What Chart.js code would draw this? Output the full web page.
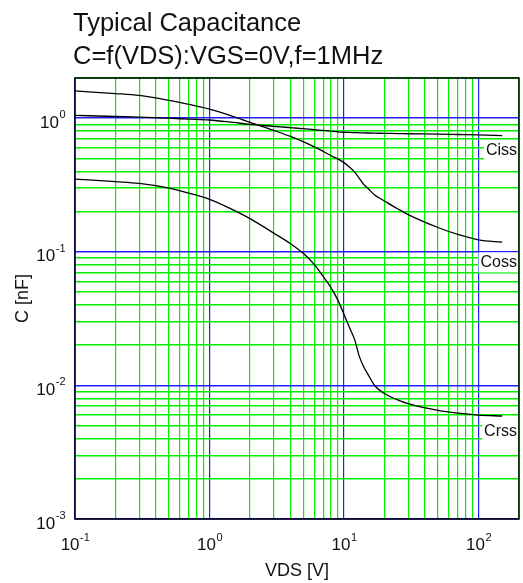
<!DOCTYPE html>
<html>
<head>
<meta charset="utf-8">
<script src="https://cdn.jsdelivr.net/npm/chart.js@4.4.1/dist/chart.umd.min.js"></script>
<style>
  html, body { margin: 0; padding: 0; background: #fff; }
  #wrap { width: 523px; height: 583px; }
</style>
</head>
<body>
<div id="wrap"><canvas id="capChart" width="523" height="583"></canvas></div>
<script>
// VDS [V] sample points shared by the three curves
const vds  = [0.1, 0.2, 0.3, 0.5, 0.7, 1, 1.5, 2, 3, 4, 5, 6, 7, 8, 9, 10, 11, 12, 13, 14, 15, 17, 20, 25, 30, 50, 70, 100, 150];
// capacitances [nF]
const ciss = [1.05, 1.03, 1.02, 1.0, 0.985, 0.97, 0.93, 0.9, 0.87, 0.85, 0.835, 0.82, 0.81, 0.8, 0.79, 0.785, 0.783, 0.78, 0.778, 0.776, 0.775, 0.773, 0.77, 0.768, 0.765, 0.76, 0.755, 0.75, 0.74];
const coss = [1.6, 1.53, 1.48, 1.36, 1.27, 1.17, 1.03, 0.93, 0.81, 0.73, 0.665, 0.61, 0.565, 0.525, 0.495, 0.465, 0.43, 0.395, 0.355, 0.32, 0.3, 0.265, 0.24, 0.21, 0.19, 0.152, 0.135, 0.123, 0.118];
const crss = [0.35, 0.335, 0.325, 0.3, 0.275, 0.247, 0.206, 0.177, 0.138, 0.115, 0.097, 0.0805, 0.0655, 0.054, 0.0435, 0.034, 0.027, 0.022, 0.0165, 0.0138, 0.0122, 0.0099, 0.0087, 0.0078, 0.0073, 0.0065, 0.0062, 0.006, 0.0059];

// curve names and the level where each name sits at the right edge
const curveNames  = ['Ciss', 'Coss', 'Crss'];
const labelLevels = [0.573, 0.0833, 0.00454];

// axes
const xMin = 0.1, xMax = 200;
const yMin = 0.001, yMax = 2;
const xTickValues = [0.1, 1, 10, 100];
const xTickExps   = ['-1', '0', '1', '2'];
const yTickValues = [1, 0.1, 0.01, 0.001];
const yTickExps   = ['0', '-1', '-2', '-3'];

const titleLines = ['Typical Capacitance', 'C=f(VDS):VGS=0V,f=1MHz'];
const xTitle = 'VDS [V]';
const yTitle = 'C [nF]';

const FONT = '"Liberation Sans", Arial, sans-serif';
const GREEN = 'rgb(0,240,0)';
const BLUE = 'rgb(30,30,255)';

// 1..9 x 10^n lines between min and max
function logGrid(min, max) {
    const out = [];
    for (let e = Math.floor(Math.log10(min)); e <= Math.ceil(Math.log10(max)); e++) {
        for (let m = 1; m < 10; m++) {
            const v = Number((m * Math.pow(10, e)).toPrecision(6));
            if (v >= min - 1e-12 && v <= max + 1e-12) out.push(v);
        }
    }
    return out;
}
const isDecade = v => Math.abs(Math.log10(v) - Math.round(Math.log10(v))) < 1e-6;

function drawPower(ctx, exp, x, baseY, align) {
    ctx.font = '17px ' + FONT;
    const wb = ctx.measureText('10').width;
    ctx.font = '11px ' + FONT;
    const we = ctx.measureText(exp).width;
    const left = align === 'center' ? x - (wb + we) / 2 : x - wb - we;
    ctx.textAlign = 'left';
    ctx.textBaseline = 'alphabetic';
    ctx.font = '17px ' + FONT;
    ctx.fillText('10', left, baseY);
    ctx.font = '11px ' + FONT;
    ctx.fillText(exp, left + wb + 0.5, baseY - 9.5);
}

const decorPlugin = {
    id: 'decor',
    afterDatasetsDraw(chart) {
        const { ctx, chartArea: a, scales: { x, y } } = chart;
        ctx.save();

        // curve names on white boxes
        ctx.font = '16px ' + FONT;
        curveNames.forEach((name, i) => {
            const py = y.getPixelForValue(labelLevels[i]);
            const w = ctx.measureText(name).width;
            const tx = a.right - 2 - w;
            ctx.fillStyle = '#fff';
            ctx.fillRect(tx - 2, py - 10, a.right - tx + 1, 20);
            ctx.fillStyle = '#111';
            ctx.textAlign = 'left';
            ctx.textBaseline = 'middle';
            ctx.fillText(name, tx, py);
        });

        // frame
        ctx.strokeStyle = '#000';
        ctx.lineWidth = 1.5;
        ctx.strokeRect(a.left, a.top, a.right - a.left, a.bottom - a.top);

        ctx.fillStyle = '#111';
        // tick labels
        xTickValues.forEach((v, i) => drawPower(ctx, xTickExps[i], x.getPixelForValue(v), a.bottom + 31, 'center'));
        yTickValues.forEach((v, i) => drawPower(ctx, yTickExps[i], a.left - 10, y.getPixelForValue(v) + 9.5, 'right'));

        // titles
        ctx.font = '25.5px ' + FONT;
        ctx.textAlign = 'left';
        ctx.textBaseline = 'alphabetic';
        ctx.fillText(titleLines[0], 73, 31);
        ctx.fillText(titleLines[1], 73, 64);

        ctx.font = '18px ' + FONT;
        ctx.textAlign = 'center';
        ctx.fillText(xTitle, (a.left + a.right) / 2, a.bottom + 57);

        ctx.translate(28, (a.top + a.bottom) / 2);
        ctx.rotate(-Math.PI / 2);
        ctx.fillText(yTitle, 0, 0);
        ctx.restore();
    }
};

function curve(name, values) {
    return {
        label: name,
        data: vds.map((v, i) => ({ x: v, y: values[i] })),
        borderColor: '#000',
        borderWidth: 1.3,
        pointRadius: 0,
        cubicInterpolationMode: 'monotone',
        fill: false
    };
}

function gridOpts(width) {
    return {
        drawTicks: false,
        lineWidth: width,
        color: c => (c.tick && isDecade(c.tick.value)) ? BLUE : GREEN
    };
}

new Chart(document.getElementById('capChart').getContext('2d'), {
    type: 'line',
    data: {
        datasets: [curve('Ciss', ciss), curve('Coss', coss), curve('Crss', crss)]
    },
    options: {
        responsive: false,
        animation: false,
        layout: { padding: { left: 75, top: 78, right: 4, bottom: 64 } },
        plugins: { legend: { display: false }, tooltip: { enabled: false } },
        scales: {
            x: {
                type: 'logarithmic', min: xMin, max: xMax,
                ticks: { display: false },
                grid: gridOpts(1.2),
                border: { display: false },
                afterBuildTicks: s => { s.ticks = logGrid(xMin, xMax).map(v => ({ value: v })); },
                afterFit: s => { s.height = 0; }
            },
            y: {
                type: 'logarithmic', min: yMin, max: yMax,
                ticks: { display: false },
                grid: gridOpts(1.5),
                border: { display: false },
                afterBuildTicks: s => { s.ticks = logGrid(yMin, yMax).map(v => ({ value: v })); },
                afterFit: s => { s.width = 0; }
            }
        }
    },
    plugins: [decorPlugin]
});
</script>
</body>
</html>
